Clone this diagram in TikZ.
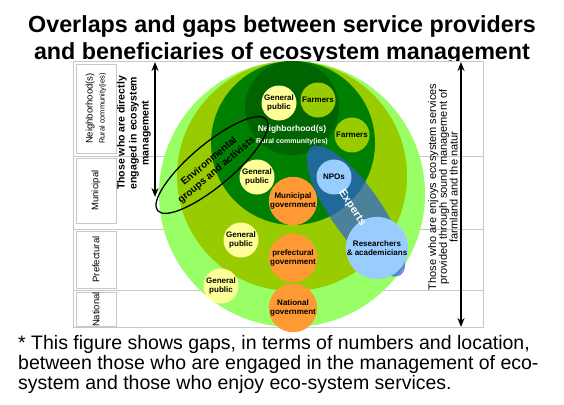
\documentclass[tikz,border=0pt]{standalone}
\usepackage{fontspec}
\setmainfont{Liberation Sans}
\usetikzlibrary{shapes.geometric,arrows.meta}
\definecolor{lgreen}{RGB}{153,255,102}
\definecolor{ygreen}{RGB}{153,204,0}
\definecolor{mgreen}{RGB}{0,128,0}
\definecolor{dgreen}{RGB}{0,100,0}
\definecolor{gpub}{RGB}{255,255,153}
\definecolor{govc}{RGB}{255,153,51}
\definecolor{lblue}{RGB}{153,204,255}
\definecolor{eblue}{RGB}{45,97,218}
\definecolor{framec}{RGB}{200,200,200}
\begin{document}
\begin{tikzpicture}[x=1pt,y=-1pt,
  titlef/.style={font=\fontsize{23.3}{25}\selectfont\bfseries,inner sep=0pt,anchor=base},
  footf/.style={font=\fontsize{19.5}{20}\selectfont,inner sep=0pt,anchor=base west},
  small/.style={circle,minimum size=35pt,inner sep=0pt,align=center,text=black,
     font=\fontsize{8}{8.6}\selectfont\bfseries},
  pub/.style={small,fill=gpub},
  farm/.style={small,fill=ygreen},
  gv/.style={small,fill=govc},
  ex/.style={small,fill=lblue},
  lbox/.style={draw=framec,fill=white,line width=0.9pt,rotate=90,inner sep=0pt,align=center,
     minimum height=40pt},
  lboxf/.style={font=\fontsize{9.5}{10.7}\selectfont},
  dbl/.style={{Stealth[length=9pt,width=7pt]}-{Stealth[length=9pt,width=7pt]},line width=1.8pt,black}
]
\useasboundingbox (0,0) rectangle (564,404);
\fill[white] (0,0) rectangle (564,404);
% title (its descenders are hidden by the white plot area, as in the original)
\node[titlef] (t1) at (282,33) {Overlaps and gaps between service providers};
\node[titlef] (t2) at (282,59.5) {and beneficiaries of ecosystem management};
% frame
\draw[framec,line width=0.9pt,fill=white] (73,61) rectangle (483,327);
\foreach \yy in {156,229,290} \draw[framec,line width=0.9pt] (73,\yy) -- (483,\yy);
% nested circles
\fill[lgreen] (292,194) circle (133);
\fill[ygreen] (292,176) circle (115);
\fill[mgreen] (293,143) circle (82);
\fill[dgreen] (292,108) circle (47);
% experts ellipse
\node[ellipse,fill=eblue,fill opacity=0.7,minimum width=156pt,minimum height=50pt,rotate=-55,inner sep=0pt] (exp) at (356,211) {};
% small circles
\node[pub] (gp1) at (279,103) {General\\public};
\node[farm] (f1) at (318,100) {Farmers};
\node[farm] (f2) at (352,135) {Farmers};
\node[pub] (gp2) at (257,177) {General\\public};
\node[ex] (npo) at (334,177) {NPOs};
\node[gv] (mgov) at (293,201) {Municipal\\government};
\node[pub] (gp3) at (241,240) {General\\public};
\node[gv] (pgov) at (293,258) {prefectural\\government};
\node[ex] (res) at (377,248) {Researchers\\\& academicians};
\node[pub] (gp4) at (221,286) {General\\public};
\node[gv] (ngov) at (293,308) {National\\government};
% neighborhood label
\node[text=white,align=center,inner sep=0pt] (nb) at (292,135)
  {{\fontsize{8.5}{10}\selectfont\bfseries Neighborhood(s)}\\{\fontsize{7}{9}\selectfont\bfseries Rural community(ies)}};
% experts text
\node[rotate=-56,text=white,font=\fontsize{11}{12}\selectfont\bfseries,inner sep=0pt] (ext) at (352,208) {Experts};
% environmental ellipse
\node[ellipse,draw=black,line width=1.3pt,minimum width=142pt,minimum height=42pt,rotate=40,inner sep=0pt] (env) at (212,165) {};
\node[rotate=40,align=center,font=\fontsize{10}{11.5}\selectfont\bfseries,inner sep=0pt] (envt) at (213,166) {Environmental\\groups and activists};
% arrows
\coordinate (la1) at (155,62);
\coordinate (la2) at (155,197);
\draw[dbl] (la1) -- (la2);
\coordinate (ra1) at (461,62);
\coordinate (ra2) at (461,327);
\draw[dbl] (ra1) -- (ra2);
\node[rotate=90,align=center,font=\fontsize{10.5}{12}\selectfont\bfseries,inner sep=0pt] (lt) at (134,133)
  {Those who are directly\\engaged in ecosystem\\management};
\node[rotate=90,align=center,font=\fontsize{11}{10.8}\selectfont,inner sep=0pt] (rt) at (443,187)
  {Those who are enjoys ecosystem services\\provided through sound management of\\farmland and the natur};
% label boxes
\node[lbox,minimum width=89pt] (b1) at (96,108.5)
  {{\fontsize{9.5}{10.7}\selectfont Neighborhood(s)}\\{\fontsize{7.5}{9}\selectfont Rural community(ies)}};
\node[lbox,lboxf,minimum width=65pt] (b2) at (96,190.5) {Municipal};
\node[lbox,lboxf,minimum width=57pt] (b3) at (96,259.5) {Prefectural};
\node[lbox,lboxf,minimum width=33pt] (b4) at (96,309.5) {National};
% footnote
\node[footf] (fn1) at (18,349) {* This figure shows gaps, in terms of numbers and location,};
\node[footf] (fn2) at (18,369) {between those who are engaged in the management of eco-};
\node[footf] (fn3) at (18,389) {system and those who enjoy eco-system services.};
\end{tikzpicture}
\end{document}
